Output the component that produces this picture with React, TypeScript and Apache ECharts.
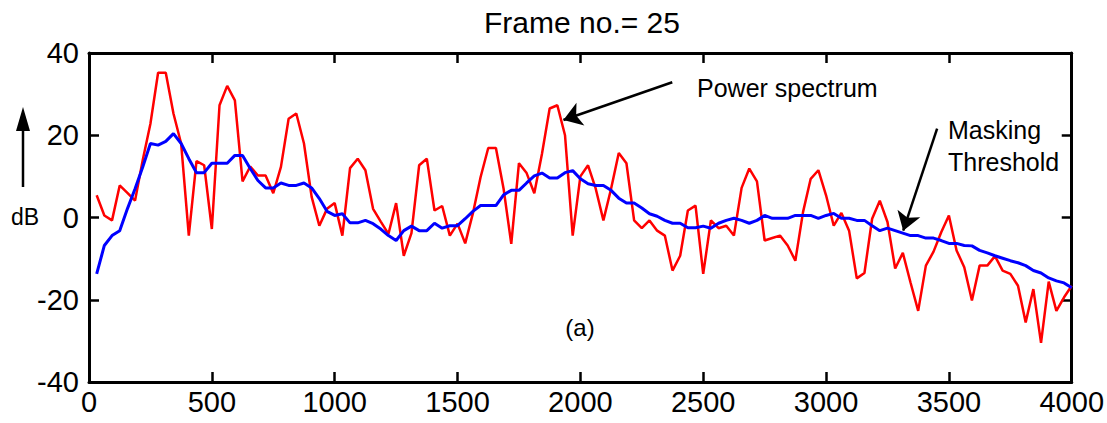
import React, { useEffect, useRef } from "react";
import * as echarts from "echarts";

// Frequency bin spacing (Hz); bin k (1..128) sits at k * BIN_HZ
const BIN_HZ = 31.25;

const powerSpectrum: number[] = [
  5.4, 0.5, -0.7, 7.8, 6, 4.1, 14, 22.8, 35.2, 35.2,
  25.3, 18, -4.4, 13.7, 12.7, -2.8, 27.3, 32, 28.5, 8.8,
  12.4, 10.2, 10.2, 5.9, 12.3, 24, 25.3, 18, 5, -2,
  2.1, 3.5, -4.4, 12, 14.3, 11.5, 2.1, -1, -4, 3.5,
  -9.3, -3.8, 12.7, 14.3, 1.7, 2.8, -4.4, -1.5, -6.3, 1,
  9.8, 16.9, 16.9, 7, -6.4, 13.2, 10.8, 5.9, 15.5, 26.5,
  27.3, 20, -4.4, 10, 12.7, 7, -0.7, 7, 15.7, 13.2,
  -0.7, -2.6, -0.7, -3.2, -4.4, -12.9, -9.3, 1.7, 2.9, -13.7,
  -0.7, -2.6, -2, -4.4, 7.2, 11.9, 8.8, -5.6, -5, -4.4,
  -6.8, -10.5, 1.3, 9.4, 11.5, 5.4, -2, 1.1, -3.2, -14.8,
  -13.5, -0.3, 4.1, -1.1, -12.4, -8.6, -15.8, -22.7, -11.7, -8.3,
  -3.6, 0.5, -8, -12.1, -20.2, -11.7, -11.7, -9.4, -12.9, -13.7,
  -16.6, -25.5, -17.4, -30.5, -15.6, -22.7, -19.4, -16.6,
];

const maskingThreshold: number[] = [
  -13.7, -6.8, -4.4, -3.2, 2.1, 7, 12.3, 18, 17.6, 18.5,
  20.4, 18, 14.3, 10.9, 10.9, 13.2, 13.2, 13.2, 15.1, 15.1,
  11.9, 9, 7.2, 7.2, 8.4, 7.8, 7.8, 8.4, 7.2, 4.6,
  1.5, 0.5, 0.9, -1.3, -1.3, -0.7, -1.5, -2.8, -4.4, -5.6,
  -3.2, -2.1, -3.2, -3.2, -1.4, -2.6, -2, -2, -0.3, 1.5,
  2.9, 2.9, 2.9, 5.5, 6.6, 6.6, 8.4, 10.1, 10.8, 9.6,
  9.6, 10.9, 11.4, 9.4, 8.2, 7.8, 7.8, 6.6, 4.7, 3.5,
  3.5, 2.3, 0.9, 0.3, -0.7, -1.4, -1.4, -2.5, -2.5, -2.1,
  -2.6, -1.4, -0.7, -0.2, -0.7, -1.4, -0.7, 0.5, -0.2, -0.2,
  -0.2, 0.5, 0.5, 0.5, -0.2, 0.5, 1, -0.2, -0.2, -0.7,
  -0.7, -2, -3.2, -2.6, -3.2, -3.8, -4.4, -4.4, -5, -5,
  -5.6, -6.3, -6.3, -6.8, -6.9, -8, -8.6, -9.3, -9.9, -10.5,
  -11, -11.7, -12.9, -13.5, -14.7, -15.4, -15.9, -17.1,
];

// Annotation arrows in data coordinates: [fromHz, fromDb, toHz, toDb]
const powerArrow = [2374, 32.9, 1931, 23.7];
const maskArrow = [3452, 21.6, 3314, -3.2];

const xTicks = { min: 0, max: 4000, interval: 500 };
const yTicks = { min: -40, max: 40, interval: 20 };

const FONT = "'Liberation Sans', Arial, Helvetica, sans-serif";

export default function App() {
  const ref = useRef<HTMLDivElement>(null);

  useEffect(() => {
    if (!ref.current) return;
    const chart = echarts.init(ref.current, undefined, { renderer: "svg" });

    const toPairs = (arr: number[]) => arr.map((v, i) => [(i + 1) * BIN_HZ, v]);

    const axisLine = { show: true, onZero: false, lineStyle: { color: "#000", width: 3 } };
    const axisTick = { show: true, inside: true, length: 10, lineStyle: { color: "#000", width: 2.5 } };
    const label = { color: "#000", fontSize: 29, fontFamily: FONT, formatter: (v: number) => String(v) };

    chart.setOption({
      animation: false,
      backgroundColor: "#fff",
      grid: { left: 89, right: 32, top: 53, bottom: 41, containLabel: false },
      xAxis: [
        {
          type: "value", ...xTicks, position: "bottom",
          axisLine, axisTick, splitLine: { show: false },
          axisLabel: { ...label, margin: 5 },
        },
        {
          type: "value", ...xTicks, position: "top",
          axisLine, axisTick, splitLine: { show: false },
          axisLabel: { show: false },
        },
      ],
      yAxis: [
        {
          type: "value", ...yTicks, position: "left",
          axisLine, axisTick, splitLine: { show: false },
          axisLabel: { ...label, margin: 10 },
        },
        {
          type: "value", ...yTicks, position: "right",
          axisLine, axisTick, splitLine: { show: false },
          axisLabel: { show: false },
        },
      ],
      series: [
        {
          type: "line",
          name: "Power spectrum",
          data: toPairs(powerSpectrum),
          showSymbol: false,
          symbol: "none",
          lineStyle: { color: "#ff0000", width: 2.5 },
          z: 2,
          markLine: {
            silent: true,
            symbol: ["none", "arrow"],
            symbolSize: 18,
            label: { show: false },
            emphasis: { disabled: true },
            lineStyle: { color: "#000", width: 2.5, type: "solid" },
            data: [
              [
                { coord: [powerArrow[0], powerArrow[1]] },
                { coord: [powerArrow[2], powerArrow[3]] },
              ],
              [
                { coord: [maskArrow[0], maskArrow[1]] },
                { coord: [maskArrow[2], maskArrow[3]] },
              ],
            ],
          },
        },
        {
          type: "line",
          name: "Masking Threshold",
          data: toPairs(maskingThreshold),
          showSymbol: false,
          symbol: "none",
          lineStyle: { color: "#0000ff", width: 3 },
          z: 3,
        },
      ],
      graphic: [
        {
          type: "text", x: 582, y: 22,
          style: { text: "Frame no.= 25", fontSize: 30, fill: "#000", fontFamily: FONT, textAlign: "center", textVerticalAlign: "middle" },
        },
        {
          type: "text", x: 697, y: 88,
          style: { text: "Power spectrum", fontSize: 25, fill: "#000", fontFamily: FONT, textAlign: "left", textVerticalAlign: "middle" },
        },
        {
          type: "text", x: 948, y: 130,
          style: { text: "Masking", fontSize: 25, fill: "#000", fontFamily: FONT, textAlign: "left", textVerticalAlign: "middle" },
        },
        {
          type: "text", x: 948, y: 162,
          style: { text: "Threshold", fontSize: 25, fill: "#000", fontFamily: FONT, textAlign: "left", textVerticalAlign: "middle" },
        },
        {
          type: "text", x: 580, y: 327,
          style: { text: "(a)", fontSize: 24, fill: "#000", fontFamily: FONT, textAlign: "center", textVerticalAlign: "middle" },
        },
        {
          type: "text", x: 25, y: 217,
          style: { text: "dB", fontSize: 23, fill: "#000", fontFamily: FONT, textAlign: "center", textVerticalAlign: "middle" },
        },
        {
          type: "line",
          shape: { x1: 23, y1: 187, x2: 23, y2: 126 },
          style: { stroke: "#000", lineWidth: 2.5 },
        },
        {
          type: "polygon",
          shape: { points: [[23, 107], [16, 131], [30, 131]] },
          style: { fill: "#000" },
        },
      ],
    });

    return () => chart.dispose();
  }, []);

  return (
    <div
      ref={ref}
      style={{ position: "absolute", left: 0, top: 0, width: 1107, height: 423 }}
    />
  );
}
